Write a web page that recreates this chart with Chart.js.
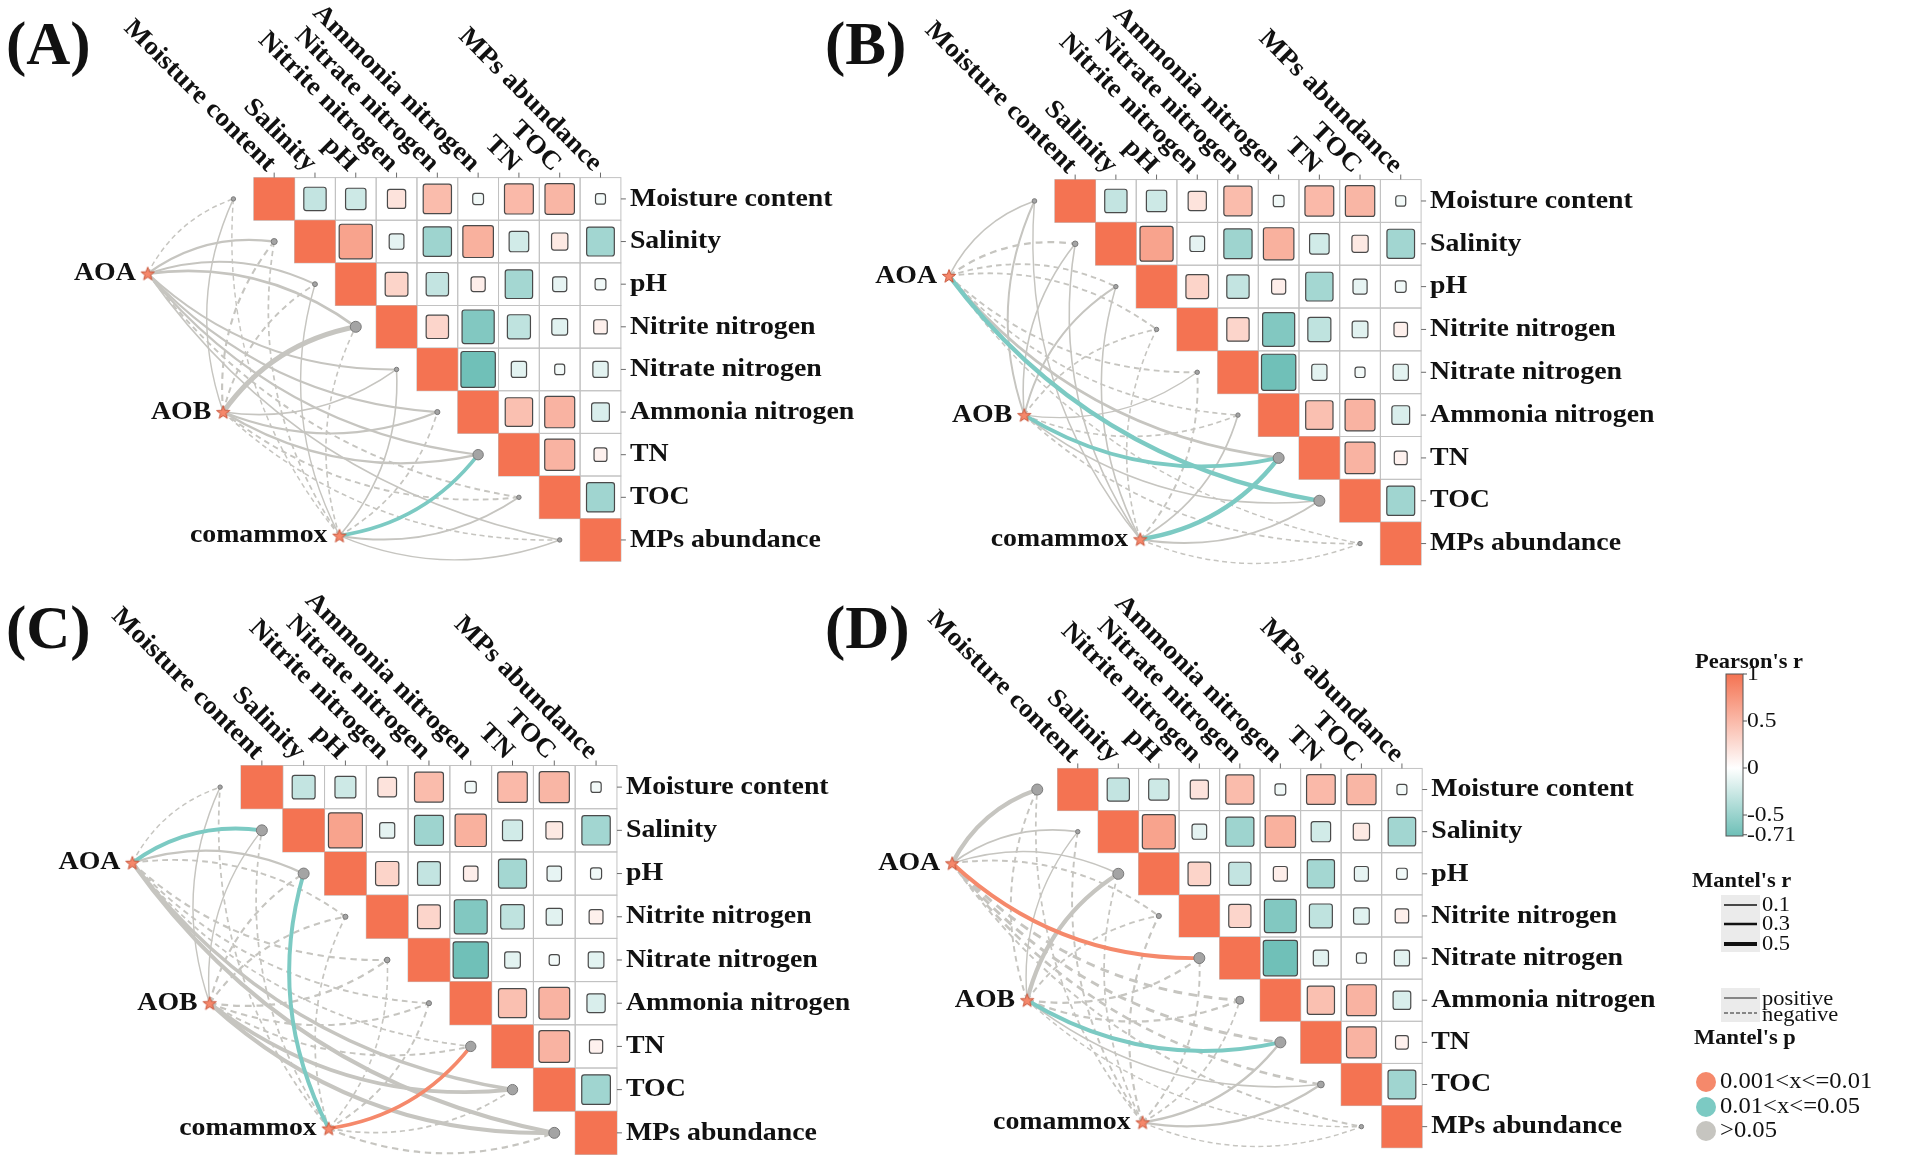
<!DOCTYPE html>
<html lang="en">
<head>
<meta charset="UTF-8">
<script src="https://cdn.jsdelivr.net/npm/chart.js"></script>
<title>Mantel test panels</title>
<style>
  body { margin: 0; background: #fff; width: 1907px; height: 1168px; position: relative; overflow: hidden; }
  canvas { position: absolute; }
</style>
</head>
<body>
<canvas id="panelA" width="880" height="584" style="left:0px;top:0px"></canvas>
<canvas id="panelB" width="890" height="584" style="left:800px;top:0px"></canvas>
<canvas id="panelC" width="880" height="584" style="left:0px;top:584px"></canvas>
<canvas id="panelD" width="1107" height="584" style="left:800px;top:584px"></canvas>
<script>
// ---- data ----
const envVars = ['Moisture content', 'Salinity', 'pH', 'Nitrite nitrogen', 'Nitrate nitrogen',
                 'Ammonia nitrogen', 'TN', 'TOC', 'MPs abundance'];
const specNames = ['AOA', 'AOB', 'comammox'];

// Pearson's r, upper triangle: row i against columns i+1 .. 8
const pearsonUpper = [
  [-0.30, -0.25, 0.20, 0.48, -0.07, 0.50, 0.52, -0.06],
  [0.66, -0.13, -0.48, 0.56, -0.23, 0.16, -0.46],
  [0.31, -0.30, 0.12, -0.45, -0.12, -0.07],
  [0.30, -0.62, -0.32, -0.15, 0.11],
  [-0.71, -0.14, -0.06, -0.14],
  [0.45, 0.54, -0.19],
  [0.54, 0.10],
  [-0.47]
];

// Mantel's r (sign gives positive / negative), rows AOA, AOB, comammox
const mantelR_A = [
  [-0.08, 0.22, 0.17, 0.28, 0.15, 0.18, 0.18, -0.15, 0.10],
  [0.08, -0.18, -0.15, 0.60, 0.10, 0.18, 0.20, -0.15, -0.10],
  [-0.08, -0.12, 0.08, -0.10, 0.10, -0.12, 0.40, 0.15, 0.08]
];
const mantelP_A = [
  [0.62, 0.21, 0.28, 0.12, 0.35, 0.26, 0.30, 0.41, 0.55],
  [0.66, 0.33, 0.38, 0.07, 0.52, 0.29, 0.22, 0.40, 0.58],
  [0.71, 0.47, 0.64, 0.55, 0.50, 0.46, 0.03, 0.36, 0.60]
];
const mantelR_B = [
  [0.10, -0.20, -0.14, -0.14, -0.15, -0.12, 0.28, 0.50, -0.08],
  [0.16, 0.10, 0.15, -0.12, 0.08, -0.12, 0.42, 0.10, -0.12],
  [0.08, 0.10, 0.10, -0.10, -0.15, 0.12, 0.52, 0.16, -0.08]
];
const mantelP_B = [
  [0.52, 0.24, 0.37, 0.33, 0.40, 0.47, 0.09, 0.03, 0.66],
  [0.31, 0.55, 0.36, 0.48, 0.63, 0.45, 0.02, 0.51, 0.47],
  [0.69, 0.54, 0.50, 0.57, 0.36, 0.44, 0.02, 0.30, 0.70]
];
const mantelR_C = [
  [-0.08, 0.45, 0.22, -0.15, -0.18, -0.15, -0.12, 0.40, 0.45],
  [0.08, 0.08, -0.18, -0.18, -0.20, -0.18, -0.15, 0.40, 0.48],
  [-0.12, -0.12, 0.45, -0.12, -0.10, -0.15, 0.40, -0.12, -0.18]
];
const mantelP_C = [
  [0.68, 0.03, 0.19, 0.39, 0.30, 0.37, 0.45, 0.08, 0.06],
  [0.62, 0.64, 0.29, 0.31, 0.24, 0.28, 0.35, 0.07, 0.06],
  [0.47, 0.49, 0.04, 0.46, 0.55, 0.38, 0.008, 0.44, 0.27]
];
const mantelR_D = [
  [0.50, 0.12, 0.12, -0.15, 0.45, -0.30, -0.30, -0.25, -0.15],
  [-0.15, 0.08, 0.50, -0.15, -0.20, -0.20, 0.45, 0.10, -0.08],
  [-0.12, -0.15, -0.12, -0.18, -0.15, -0.12, 0.22, 0.20, -0.08]
];
const mantelP_D = [
  [0.06, 0.49, 0.47, 0.36, 0.006, 0.11, 0.12, 0.16, 0.38],
  [0.35, 0.66, 0.07, 0.37, 0.23, 0.25, 0.03, 0.56, 0.70],
  [0.45, 0.39, 0.47, 0.29, 0.37, 0.46, 0.20, 0.27, 0.69]
];

// ---- layout ----
// where the species nodes sit, in matrix cell units
const specLayout = [[-2.6, 2.25], [-0.75, 5.5], [2.1, 8.4]];
const SERIF = '"Liberation Serif", "DejaVu Serif", serif';
const STRETCH = 1.07;
const POS = [244, 115, 82], NEG = [112, 192, 184], WHITE = [255, 255, 255];
const pColors = ['#f5896b', '#7ccac3', '#c6c5c0'];

function mix(a, b, t) {
  return 'rgb(' + a.map((v, k) => Math.round(v + (b[k] - v) * t)).join(',') + ')';
}
function pearsonColor(r) {
  return r >= 0 ? mix(WHITE, POS, Math.min(1, r)) : mix(WHITE, NEG, Math.min(1, -r / 0.71));
}
function pClass(p) { return p <= 0.01 ? 0 : (p <= 0.05 ? 1 : 2); }
function lineW(r) { return 0.9 + 6.8 * Math.abs(r); }

function txt(ctx, s, x, y, size, bold, align, base, rot, stretch) {
  ctx.save();
  ctx.translate(x, y);
  if (rot) ctx.rotate(rot);
  ctx.scale(stretch === undefined ? STRETCH : stretch, 1);
  ctx.font = (bold ? 'bold ' : '') + size + 'px ' + SERIF;
  ctx.textAlign = align;
  ctx.textBaseline = base;
  ctx.fillStyle = '#111';
  ctx.fillText(s, 0, 0);
  ctx.restore();
}

function makeStar() {
  const c = document.createElement('canvas');
  c.width = 18; c.height = 18;
  const g = c.getContext('2d');
  g.beginPath();
  for (let k = 0; k < 10; k++) {
    const a = -Math.PI / 2 + k * Math.PI / 5;
    const rr = k % 2 ? 2.9 : 7;
    g.lineTo(9 + rr * Math.cos(a), 9.6 + rr * Math.sin(a));
  }
  g.closePath();
  g.fillStyle = '#f5876a';
  g.fill();
  g.strokeStyle = '#c9573c';
  g.lineWidth = 1;
  g.stroke();
  return c;
}
const starImg = makeStar();

const mantelLayers = {
  id: 'mantelLayers',
  beforeDatasetsDraw(chart) {
    const o = chart.options.plugins.mantelLayers;
    const ctx = chart.ctx, xs = chart.scales.x, ys = chart.scales.y;
    const px = v => xs.getPixelForValue(v), py = v => ys.getPixelForValue(v);
    const n = envVars.length;
    ctx.save();
    // grid of the upper triangle
    ctx.strokeStyle = '#c2c2c2';
    ctx.lineWidth = 1;
    for (let i = 0; i < n; i++) {
      for (let j = i; j < n; j++) {
        ctx.strokeRect(px(j), py(i), px(j + 1) - px(j), py(i + 1) - py(i));
      }
    }
    // diagonal and correlation squares
    for (let i = 0; i < n; i++) {
      ctx.fillStyle = pearsonColor(1);
      ctx.fillRect(px(i), py(i), px(i + 1) - px(i), py(i + 1) - py(i));
      (pearsonUpper[i] || []).forEach((r, k) => {
        const j = i + 1 + k;
        const s = Math.sqrt(Math.abs(r));
        const x0 = px(j + 0.5 - s / 2), x1 = px(j + 0.5 + s / 2);
        const y0 = py(i + 0.5 - s / 2), y1 = py(i + 0.5 + s / 2);
        ctx.beginPath();
        ctx.roundRect(x0, y0, x1 - x0, y1 - y0, 2.5);
        ctx.fillStyle = pearsonColor(r);
        ctx.fill();
        ctx.strokeStyle = '#4a4a4a';
        ctx.lineWidth = 1.2;
        ctx.stroke();
      });
    }
    // ticks
    ctx.strokeStyle = '#6a6a6a';
    ctx.lineWidth = 1;
    for (let i = 0; i < n; i++) {
      ctx.beginPath();
      ctx.moveTo(px(n), py(i + 0.5)); ctx.lineTo(px(n) + 5, py(i + 0.5));
      ctx.moveTo(px(i + 0.5), py(0)); ctx.lineTo(px(i + 0.5), py(0) - 5);
      ctx.stroke();
    }
    // Mantel links, grey ones underneath
    const links = [];
    o.r.forEach((row, s) => row.forEach((r, e) => links.push({ s, e, r, c: pClass(o.p[s][e]) })));
    links.sort((a, b) => b.c - a.c);
    links.forEach(l => {
      const x0 = px(specLayout[l.s][0]), y0 = py(specLayout[l.s][1]);
      const x2 = px(l.e - 0.5), y2 = py(l.e + 0.5);
      const dx = x2 - x0, dy = y2 - y0;
      const side = l.e < 4 ? 1 : -1;
      const cx = (x0 + x2) / 2 + side * dy * 0.2;
      const cy = (y0 + y2) / 2 - side * dx * 0.2;
      const w = lineW(l.r);
      ctx.beginPath();
      ctx.moveTo(x0, y0);
      ctx.quadraticCurveTo(cx, cy, x2, y2);
      ctx.strokeStyle = pColors[l.c];
      ctx.lineWidth = w;
      ctx.setLineDash(l.r < 0 ? [Math.max(5, 3 * w), Math.max(3.5, 2.2 * w)] : []);
      ctx.stroke();
    });
    ctx.restore();
  },
  afterDatasetsDraw(chart) {
    const o = chart.options.plugins.mantelLayers;
    const ctx = chart.ctx, xs = chart.scales.x, ys = chart.scales.y;
    const px = v => xs.getPixelForValue(v), py = v => ys.getPixelForValue(v);
    const n = envVars.length;
    envVars.forEach((name, i) => {
      txt(ctx, name, px(n) + 9, py(i + 0.5), 26, true, 'left', 'middle');
      txt(ctx, name, px(i + 0.5) - 3, py(0) - 10, 26, true, 'right', 'middle', Math.PI / 4);
    });
    specNames.forEach((name, s) => {
      txt(ctx, name, px(specLayout[s][0]) - 12, py(specLayout[s][1]), 26, true, 'right', 'middle');
    });
    txt(ctx, o.tag, o.tagX, o.tagY, 61, true, 'left', 'alphabetic', 0, 1);
    if (o.legend) drawLegend(ctx, o.left, o.top);
  }
};

function drawLegend(ctx, left, top) {
  ctx.save();
  ctx.translate(-left, -top);
  // Pearson's r colour bar
  txt(ctx, "Pearson's r", 1749, 668, 21, true, 'center', 'alphabetic');
  const barTop = 674, barBot = 836, vy = v => 768 - v * 94;
  const bx = 1726, bw = 17;
  const grad = ctx.createLinearGradient(0, barTop, 0, barBot);
  [1, 0.75, 0.5, 0.25, 0, -0.25, -0.5, -0.71].forEach(v => {
    grad.addColorStop((vy(v) - barTop) / (barBot - barTop), pearsonColor(v));
  });
  ctx.fillStyle = grad;
  ctx.fillRect(bx, barTop, bw, barBot - barTop);
  ctx.strokeStyle = '#555';
  ctx.lineWidth = 1;
  ctx.strokeRect(bx, barTop, bw, barBot - barTop);
  [1, 0.5, 0, -0.5, -0.71].forEach(v => {
    const y = Math.min(barBot, Math.max(barTop, vy(v)));
    ctx.beginPath(); ctx.moveTo(bx + bw, y); ctx.lineTo(bx + bw + 4, y); ctx.stroke();
    txt(ctx, String(v), bx + bw + 4, y, 22, false, 'left', 'middle');
  });
  // Mantel's r widths
  txt(ctx, "Mantel's r", 1692, 887, 21, true, 'left', 'alphabetic');
  ctx.fillStyle = '#ebebeb';
  ctx.fillRect(1721, 895, 39, 57);
  [[0.1, 905], [0.3, 924], [0.5, 944]].forEach(([r, y]) => {
    ctx.beginPath(); ctx.moveTo(1724, y); ctx.lineTo(1757, y);
    ctx.strokeStyle = '#111'; ctx.lineWidth = 0.6 + 6.8 * r; ctx.stroke();
    txt(ctx, String(r), 1762, y, 21, false, 'left', 'middle');
  });
  // line types
  ctx.fillStyle = '#ebebeb';
  ctx.fillRect(1721, 988, 39, 34);
  ctx.lineWidth = 1.2; ctx.strokeStyle = '#222';
  ctx.beginPath(); ctx.moveTo(1724, 998); ctx.lineTo(1757, 998); ctx.stroke();
  ctx.setLineDash([4, 2]);
  ctx.beginPath(); ctx.moveTo(1724, 1013); ctx.lineTo(1757, 1013); ctx.stroke();
  ctx.setLineDash([]);
  txt(ctx, 'positive', 1762, 999, 21, false, 'left', 'middle');
  txt(ctx, 'negative', 1762, 1015, 21, false, 'left', 'middle');
  // Mantel's p colours
  txt(ctx, "Mantel's p", 1694, 1044, 21, true, 'left', 'alphabetic');
  ['0.001<x<=0.01', '0.01<x<=0.05', '>0.05'].forEach((lab, k) => {
    const y = [1082, 1107, 1131][k];
    ctx.beginPath(); ctx.arc(1706, y, 10, 0, Math.PI * 2);
    ctx.fillStyle = pColors[k]; ctx.fill();
    txt(ctx, lab, 1720, y, 23, false, 'left', 'middle');
  });
  ctx.restore();
}

function makePanel(p) {
  const canvas = document.getElementById(p.id);
  const W = canvas.width, H = canvas.height;
  const xMin = -(p.ox - p.left) / p.cw, yMin = -(p.oy - p.top) / p.ch;
  // node dots grow with the strongest link that reaches them
  const dotR = envVars.map((_, e) => {
    const m = Math.max(...p.r.map(row => Math.abs(row[e])));
    return Math.min(5.5, 2.2 + 12 * Math.max(0, m - 0.15));
  });
  new Chart(canvas.getContext('2d'), {
    type: 'scatter',
    data: {
      datasets: [
        {
          label: 'environment',
          data: envVars.map((_, i) => ({ x: i - 0.5, y: i + 0.5 })),
          pointRadius: dotR,
          backgroundColor: '#a4a4a4',
          borderColor: '#7a7a7a',
          borderWidth: 1,
          clip: false
        },
        {
          label: 'species',
          data: specLayout.map(([x, y]) => ({ x, y })),
          pointStyle: starImg,
          clip: false
        }
      ]
    },
    options: {
      responsive: false,
      animation: false,
      events: [],
      layout: { padding: 0 },
      plugins: {
        legend: { display: false },
        tooltip: { enabled: false },
        mantelLayers: {
          r: p.r, p: p.p, tag: p.tag, tagX: p.tagX - p.left, tagY: p.tagY - p.top,
          legend: !!p.legend, left: p.left, top: p.top
        }
      },
      scales: {
        x: { type: 'linear', display: false, min: xMin, max: xMin + W / p.cw },
        y: { type: 'linear', display: false, reverse: true, min: yMin, max: yMin + H / p.ch }
      }
    },
    plugins: [mantelLayers]
  });
}

makePanel({ id: 'panelA', tag: '(A)', r: mantelR_A, p: mantelP_A, left: 0, top: 0,
            ox: 251, oy: 175, cw: 41.4, ch: 43.6, tagX: 6, tagY: 64 });
makePanel({ id: 'panelB', tag: '(B)', r: mantelR_B, p: mantelP_B, left: 800, top: 0,
            ox: 1052, oy: 177, cw: 41.3, ch: 43.8, tagX: 825, tagY: 64 });
makePanel({ id: 'panelC', tag: '(C)', r: mantelR_C, p: mantelP_C, left: 0, top: 584,
            ox: 238, oy: 763, cw: 42.4, ch: 44.2, tagX: 6, tagY: 648 });
makePanel({ id: 'panelD', tag: '(D)', r: mantelR_D, p: mantelP_D, left: 800, top: 584,
            ox: 1054, oy: 766, cw: 41.0, ch: 43.1, tagX: 825, tagY: 648, legend: true });
</script>
</body>
</html>
